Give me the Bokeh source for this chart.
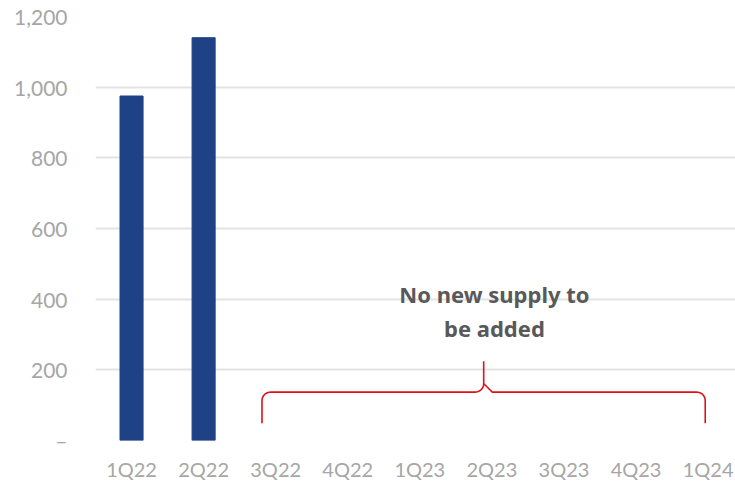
from bokeh.plotting import figure
from bokeh.models import Range1d, FixedTicker, NumeralTickFormatter
from bokeh.embed import file_html
from bokeh.resources import INLINE
from bokeh.core.properties import value
import numpy as np

quarters = ["1Q22", "2Q22", "3Q22", "4Q22", "1Q23", "2Q23", "3Q23", "4Q23", "1Q24"]
supply = [975, 1140, 0, 0, 0, 0, 0, 0, 0]
y_ticks = [0, 200, 400, 600, 800, 1000, 1200]
annotation_text = "No new supply to\nbe added"

# brace annotation parameters (data units)
brace_x_start, brace_x_end, brace_x_mid = 1.81, 7.96, 4.886
brace_y_bottom, brace_y_line, brace_y_tip = 49, 137, 224

FONT = "Lato"
LABEL_COLOR = "#A6A6A6"

p = figure(frame_width=640, frame_height=424, output_backend="svg", toolbar_location=None,
           x_range=Range1d(-0.5, 8.38), y_range=Range1d(0, 1200),
           min_border_left=95, min_border_right=0, min_border_top=16, min_border_bottom=43)
p.outline_line_color = None
p.background_fill_color = "white"

xs = list(range(len(quarters)))
bars = [(x, v) for x, v in zip(xs, supply) if v > 0]
p.vbar(x=[b[0] for b in bars], top=[b[1] for b in bars], width=0.32,
       fill_color="#1F4287", line_color="#1F4287")

# axes
p.xaxis.ticker = FixedTicker(ticks=xs)
p.xaxis.major_label_overrides = {i: q for i, q in enumerate(quarters)}
p.yaxis.ticker = FixedTicker(ticks=y_ticks)
p.yaxis.formatter = NumeralTickFormatter(format="0,0")
p.yaxis.major_label_overrides = {0: "–"}
for ax in (p.xaxis[0], p.yaxis[0]):
    ax.axis_line_color = None
    ax.major_tick_line_color = None
    ax.minor_tick_line_color = None
    ax.major_label_text_font = FONT
    ax.major_label_text_color = LABEL_COLOR
p.xaxis.major_label_text_font_size = "20px"
p.yaxis.major_label_text_font_size = "21px"
p.yaxis.major_label_standoff = 22
p.xaxis.major_label_standoff = 10

p.xgrid.grid_line_color = None
p.ygrid.grid_line_color = "#E3E3E3"
p.ygrid.grid_line_width = 2

# brace path
rx, ry = 0.12, 24.0
t = np.linspace(0, np.pi / 2, 12)
bx, by = [], []
bx += [brace_x_start]; by += [brace_y_bottom]
bx += list(brace_x_start + rx - rx * np.cos(t)); by += list(brace_y_line - ry + ry * np.sin(t))
bx += list(brace_x_mid - rx + rx * np.sin(t)); by += list(brace_y_line + ry - ry * np.cos(t))
bx += [brace_x_mid]; by += [brace_y_tip]
bx += [brace_x_mid]; by += [brace_y_line + ry]
bx += list(brace_x_mid + rx - rx * np.cos(t)); by += list(brace_y_line + ry * np.cos(t))
bx += list(brace_x_end - rx + rx * np.sin(t)); by += list(brace_y_line - ry + ry * np.cos(t))
bx += [brace_x_end]; by += [brace_y_bottom]
p.line(bx, by, line_color="#E0101A", line_width=1.6)

p.text(x=[5.035], y=[366], text=[annotation_text], text_align="center", text_baseline="middle",
       text_font=value("Noto Sans"), text_font_style="bold", text_font_size="22px",
       text_color="#595959", text_line_height=1.15)

open("out.html", "w").write(file_html(p, INLINE))
